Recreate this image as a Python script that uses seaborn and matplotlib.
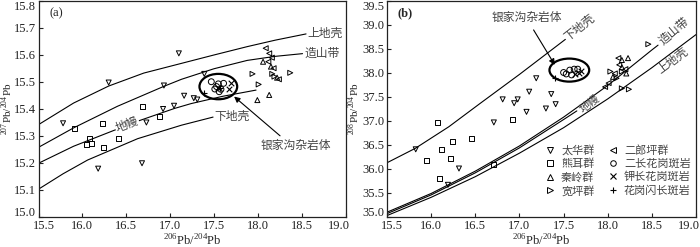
import matplotlib
matplotlib.use('Agg')
import matplotlib.pyplot as plt
import matplotlib.transforms as mtransforms
from matplotlib.patches import Ellipse
from matplotlib.lines import Line2D
import seaborn as sns

# ---- panel (a): model curves 207Pb/204Pb vs 206Pb/204Pb
a_upper_x = [15.5, 15.9, 16.3, 16.7, 17.13, 17.5, 17.88, 18.2, 18.55]
a_upper_y = [15.342, 15.422, 15.485, 15.533, 15.569, 15.600, 15.631, 15.655, 15.678]
a_orogen_x = [15.5, 15.9, 16.4, 16.93, 17.13, 17.5, 17.88, 18.2, 18.51]
a_orogen_y = [15.258, 15.330, 15.410, 15.484, 15.510, 15.549, 15.580, 15.595, 15.605]
a_mantle_x = [15.5, 15.9, 16.37, 16.65, 17.05, 17.24, 17.6, 17.98]
a_mantle_y = [15.199, 15.262, 15.322, 15.357, 15.402, 15.420, 15.447, 15.470]
a_lower_x = [15.5, 15.78, 16.06, 16.63, 17.13, 17.49]
a_lower_y = [15.103, 15.160, 15.211, 15.290, 15.340, 15.370]

# ---- panel (a): samples
a_taihua_x = [15.78, 16.30, 17.10, 16.93, 17.39, 16.73, 16.92, 17.045, 17.16, 17.27, 17.31, 16.18, 16.68]
a_taihua_y = [15.347, 15.498, 15.606, 15.487, 15.530, 15.350, 15.400, 15.412, 15.449, 15.440, 15.435, 15.179, 15.199]
a_xionger_x = [15.906, 16.234, 16.084, 16.10, 16.045, 16.245, 16.415, 16.69, 16.88]
a_xionger_y = [15.329, 15.347, 15.289, 15.273, 15.267, 15.258, 15.289, 15.409, 15.374]
a_qinling_x = [18.06, 18.15, 17.995, 18.13, 18.22]
a_qinling_y = [15.575, 15.557, 15.433, 15.452, 15.516]
a_kuanping_x = [17.94, 18.01, 18.165, 18.37, 18.19]
a_kuanping_y = [15.530, 15.491, 15.530, 15.534, 15.520]
a_erlangping_x = [18.09, 18.13, 18.16, 18.12, 18.18, 18.24]
a_erlangping_y = [15.625, 15.606, 15.590, 15.575, 15.551, 15.510]
a_monzo_x = [17.47, 17.55, 17.61, 17.51, 17.58, 17.56, 17.53]
a_monzo_y = [15.501, 15.493, 15.495, 15.474, 15.473, 15.464, 15.483]
a_kfeld_x = [17.69, 17.67, 17.55]
a_kfeld_y = [15.495, 15.473, 15.478]
a_grano_x = [17.39, 17.57]
a_grano_y = [15.458, 15.478]

# ---- panel (b): model curves 208Pb/204Pb vs 206Pb/204Pb
b_lower_x = [15.5, 15.82, 16.2, 16.55, 17.0, 17.52]
b_lower_y = [36.13, 36.43, 36.88, 37.36, 37.97, 38.70]
b_orogen_x = [15.5, 16.0, 16.5, 17.0, 17.5, 18.0, 18.5, 18.57]
b_orogen_y = [35.10, 35.49, 35.955, 36.48, 37.08, 37.74, 38.48, 38.58]
b_mantle_x = [15.5, 16.0, 16.5, 17.0, 17.5, 17.65]
b_mantle_y = [35.07, 35.46, 35.92, 36.44, 37.03, 37.21]
b_upper_x = [15.5, 16.0, 16.5, 17.0, 17.5, 18.0, 18.5, 19.0]
b_upper_y = [35.03, 35.41, 35.84, 36.33, 36.86, 37.46, 38.11, 38.80]

# ---- panel (b): samples
b_taihua_x = [15.825, 16.315, 16.19, 16.71, 16.81, 16.94, 16.98, 17.08, 17.11, 17.19, 17.30, 17.36, 17.41]
b_taihua_y = [36.41, 36.01, 35.67, 36.97, 37.45, 37.37, 37.45, 37.19, 37.61, 37.89, 37.26, 37.56, 37.35]
b_xionger_x = [16.07, 15.95, 16.12, 16.24, 16.22, 16.46, 16.09, 16.71, 16.92]
b_xionger_y = [36.97, 36.17, 36.41, 36.58, 36.22, 36.63, 35.81, 36.10, 37.03]
b_qinling_x = [18.16, 18.23, 18.06, 18.16, 18.21]
b_qinling_y = [38.27, 38.31, 37.92, 38.12, 37.99]
b_kuanping_x = [18.46, 18.16, 18.24, 18.03, 18.16, 18.10]
b_kuanping_y = [38.60, 37.68, 37.66, 38.03, 38.03, 37.89]
b_erlangping_x = [18.12, 18.13, 18.01, 17.97, 18.08, 18.20]
b_erlangping_y = [38.31, 38.17, 37.79, 37.71, 37.99, 38.08]
b_monzo_x = [17.50, 17.57, 17.62, 17.53, 17.59, 17.66]
b_monzo_y = [38.01, 38.06, 38.08, 37.98, 37.96, 38.08]
b_kfeld_x = [17.68, 17.63, 17.70]
b_kfeld_y = [38.01, 37.98, 38.05]
b_grano_x = [17.40]
b_grano_y = [37.90]

groups = ['太华群', '熊耳群', '秦岭群', '宽坪群', '二郎坪群', '二长花岗斑岩', '钾长花岗斑岩', '花岗闪长斑岩']
markers = ['v', 's', '^', '>', '<', 'o', 'x', '+']
x_ticks = [15.5, 16.0, 16.5, 17.0, 17.5, 18.0, 18.5, 19.0]

sns.set_style('ticks')
plt.rcParams['font.family'] = ['Liberation Serif', 'Noto Sans CJK SC']
plt.rcParams['mathtext.fontset'] = 'custom'
plt.rcParams['mathtext.rm'] = 'Liberation Serif'
plt.rcParams['axes.edgecolor'] = '#222222'

fig = plt.figure(figsize=(7, 2.47), dpi=100)
ax1 = fig.add_axes([0.0550, 0.1215, 0.4386, 0.8745])
ax2 = fig.add_axes([0.5529, 0.1215, 0.4414, 0.8745])
gray = '#444444'


def curve(ax, x, y):
    sns.lineplot(x=x, y=y, ax=ax, color='k', lw=0.8, sort=False, estimator=None)


def points(ax, xs, ys):
    for (x, y), m in zip(zip(xs, ys), markers):
        if m in ('x', '+'):
            sns.scatterplot(x=x, y=y, ax=ax, marker=m, s=16, color='k', linewidth=0.8)
        else:
            size = 18 if m == 'o' else 13
            sns.scatterplot(x=x, y=y, ax=ax, marker=m, s=size, facecolor='none',
                            edgecolor='k', linewidth=0.7)


# panel (a)
for x, y in [(a_upper_x, a_upper_y), (a_orogen_x, a_orogen_y),
             (a_mantle_x, a_mantle_y), (a_lower_x, a_lower_y)]:
    curve(ax1, x, y)
points(ax1,
       [a_taihua_x, a_xionger_x, a_qinling_x, a_kuanping_x, a_erlangping_x, a_monzo_x, a_kfeld_x, a_grano_x],
       [a_taihua_y, a_xionger_y, a_qinling_y, a_kuanping_y, a_erlangping_y, a_monzo_y, a_kfeld_y, a_grano_y])
ax1.add_patch(Ellipse((17.55, 15.483), 0.43, 0.094, fill=False, lw=1.6, color='k'))
ax1.text(18.57, 15.678, '上地壳', fontsize=8.5, color=gray, ha='left', va='center')
ax1.text(18.53, 15.605, '造山带', fontsize=8.5, color=gray, ha='left', va='center')
ax1.text(17.51, 15.370, '下地壳', fontsize=8.5, color=gray, ha='left', va='center')
ax1.text(16.51, 15.342, '地幔', fontsize=8.5, color=gray, ha='center', va='center', rotation=21,
         bbox=dict(facecolor='white', edgecolor='none', pad=0.5))
ax1.annotate('银家沟杂岩体', xy=(17.73, 15.446), xytext=(18.43, 15.263), fontsize=8.5, color=gray,
             ha='center', va='center',
             arrowprops=dict(arrowstyle='-|>', color='k', lw=0.8, relpos=(0.35, 1.0), shrinkA=1, shrinkB=0))
ax1.text(0.035, 0.945, '(a)', transform=ax1.transAxes, fontsize=9, ha='left', va='center')
ax1.set_xlim(15.5, 19.0)
ax1.set_ylim(15.0, 15.8)
ax1.set_xticks(x_ticks)
ax1.set_yticks([15.0, 15.1, 15.2, 15.3, 15.4, 15.5, 15.6, 15.7, 15.8])
ax1.set_xlabel(r'$^{206}$Pb/$^{204}$Pb', fontsize=9, labelpad=1)
ax1.set_ylabel(r'$^{207}$Pb/$^{204}$Pb', fontsize=8)

# panel (b)
for x, y in [(b_lower_x, b_lower_y), (b_orogen_x, b_orogen_y),
             (b_mantle_x, b_mantle_y), (b_upper_x, b_upper_y)]:
    curve(ax2, x, y)
points(ax2,
       [b_taihua_x, b_xionger_x, b_qinling_x, b_kuanping_x, b_erlangping_x, b_monzo_x, b_kfeld_x, b_grano_x],
       [b_taihua_y, b_xionger_y, b_qinling_y, b_kuanping_y, b_erlangping_y, b_monzo_y, b_kfeld_y, b_grano_y])
ax2.add_patch(Ellipse((17.565, 38.06), 0.45, 0.48, fill=False, lw=1.6, color='k'))
ax2.text(17.53, 38.72, '下地壳', fontsize=8.5, color=gray, ha='left', va='center',
         rotation=38, rotation_mode='anchor')
ax2.text(18.60, 38.62, '造山带', fontsize=8.5, color=gray, ha='left', va='center',
         rotation=40, rotation_mode='anchor')
ax2.text(18.58, 38.02, '上地壳', fontsize=8.5, color=gray, ha='left', va='center',
         rotation=37, rotation_mode='anchor')
ax2.text(17.70, 37.22, '地幔', fontsize=8, color=gray, ha='left', va='center',
         rotation=38, rotation_mode='anchor')
ax2.annotate('银家沟杂岩体', xy=(17.40, 38.17), xytext=(17.08, 39.14), fontsize=8.5, color=gray,
             ha='center', va='center',
             arrowprops=dict(arrowstyle='-|>', color='k', lw=0.8, shrinkA=2, shrinkB=0))
ax2.text(0.035, 0.945, '(b)', transform=ax2.transAxes, fontsize=9, ha='left', va='center',
         fontweight='bold')
ax2.set_xlim(15.5, 19.0)
ax2.set_ylim(35.0, 39.5)
ax2.set_xticks(x_ticks)
ax2.set_yticks([35.0, 35.5, 36.0, 36.5, 37.0, 37.5, 38.0, 38.5, 39.0, 39.5])
ax2.set_xlabel(r'$^{206}$Pb/$^{204}$Pb', fontsize=9, labelpad=1)
ax2.set_ylabel(r'$^{208}$Pb/$^{204}$Pb', fontsize=8)

handles = []
for g, m in zip(groups, markers):
    if m in ('x', '+'):
        h = Line2D([], [], marker=m, ls='none', color='k', ms=4, mew=0.8, label=g)
    else:
        h = Line2D([], [], marker=m, ls='none', mfc='none', mec='k', ms=4, mew=0.7, label=g)
    handles.append(h)
leg = ax2.legend(handles=handles, ncol=2, frameon=False, loc='lower left',
                 bbox_to_anchor=(0.495, 0.075), fontsize=8, handlelength=1.0,
                 handletextpad=0.5, columnspacing=1.15, labelspacing=0.25, borderaxespad=0)
for t in leg.get_texts():
    t.set_color(gray)


def shift(lab, dx, dy):
    lab.set_transform(lab.get_transform() +
                      mtransforms.ScaledTranslation(dx / 100, dy / 100, fig.dpi_scale_trans))


for ax in (ax1, ax2):
    ax.tick_params(direction='in', length=3, width=0.8, labelsize=9, pad=2, colors='#222222')
    ylabs = ax.get_yticklabels()
    shift(ylabs[0], 0, 5)
    shift(ylabs[-1], 0, -5)
    xlabs = ax.get_xticklabels()
    shift(xlabs[0], 5, 0)
    shift(xlabs[-1], -7, 0)
    for sp in ax.spines.values():
        sp.set_linewidth(0.9)
        sp.set_visible(True)

# ylabel anchor is its right edge (rotated text, va='bottom')
ax1.yaxis.set_label_coords(-0.077, 0.5)
ax2.yaxis.set_label_coords(-0.082, 0.5)

fig.savefig('out.png', dpi=100)
